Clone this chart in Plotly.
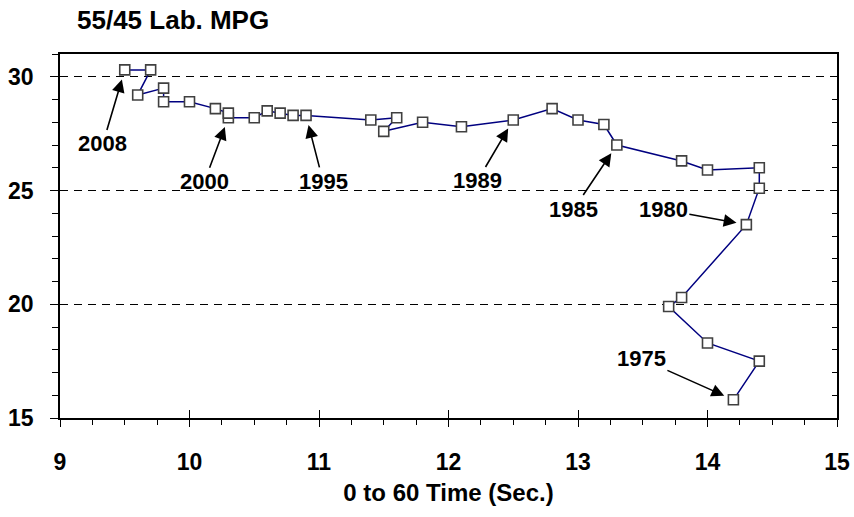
import plotly.graph_objects as go

# ---- data ----
years = list(range(1975, 2009))
accel_time = [14.2, 14.4, 14.0, 13.7, 13.8, 14.3, 14.4, 14.4, 14.0, 13.8,
              13.3, 13.2, 13.0, 12.8, 12.5, 12.1, 11.8, 11.5, 11.6, 11.4,
              10.9, 10.8, 10.7, 10.6, 10.5, 10.3, 10.3, 10.2, 10.0, 9.8,
              9.8, 9.6, 9.7, 9.5]
mpg = [15.8, 17.5, 18.3, 19.9, 20.3, 23.5, 25.1, 26.0, 25.9, 26.3,
       27.0, 27.9, 28.1, 28.6, 28.1, 27.8, 28.0, 27.6, 28.2, 28.1,
       28.3, 28.3, 28.4, 28.5, 28.2, 28.2, 28.4, 28.6, 28.9, 28.9,
       29.5, 29.2, 30.3, 30.3]
labelled_years = [2008, 2000, 1995, 1989, 1985, 1980, 1975]

x_ticks = [9, 10, 11, 12, 13, 14, 15]
y_ticks = [15, 20, 25, 30]

# label offsets (pixels from the point to the label text)
label_offsets = {2008: (-22, 74), 2000: (-24, 64), 1995: (17, 66),
                 1989: (-36, 61), 1985: (-43, 64), 1980: (-83, -15),
                 1975: (-92, -41)}

FONT = "Arial, Liberation Sans, sans-serif"
BOLD = dict(family=FONT, color="black", weight="bold")

fig = go.Figure()

fig.add_trace(go.Scatter(
    x=accel_time, y=mpg, mode="lines+markers",
    line=dict(color="#000080", width=1.5),
    marker=dict(symbol="square", size=10, color="white",
                line=dict(color="#404040", width=1.6)),
    text=[str(y) for y in years], hoverinfo="text+x+y",
    showlegend=False))

# invisible trace to carry the extra tick axes (inside ticks)
fig.add_trace(go.Scatter(x=[9, 15], y=[15, 31], xaxis="x2", yaxis="y2",
                         mode="markers", marker=dict(opacity=0),
                         hoverinfo="skip", showlegend=False))

for yr in labelled_years:
    i = years.index(yr)
    ax, ay = label_offsets[yr]
    fig.add_annotation(
        x=accel_time[i], y=mpg[i], text=str(yr),
        ax=ax, ay=ay, showarrow=True, arrowhead=2, arrowsize=1.6,
        arrowwidth=1.6, arrowcolor="black", standoff=10,
        font=dict(BOLD, size=22))

fig.update_layout(
    width=854, height=517,
    margin=dict(l=60, r=17, t=54, b=99),
    paper_bgcolor="white", plot_bgcolor="white",
    font=dict(family=FONT, color="black"),
    title=dict(text="55/45 Lab. MPG", x=77 / 854, xanchor="left",
               xref="container", y=1 - 20 / 517, yanchor="middle",
               font=dict(BOLD, size=26)),
    xaxis=dict(range=[9, 15], tickvals=x_ticks, ticks="outside", ticklen=7,
               tickwidth=1.2, tickcolor="black", automargin=False,
               minor=dict(dtick=0.25, ticks="outside", ticklen=5,
                          tickcolor="black", tickwidth=1),
               showline=True, linecolor="black", linewidth=1.5, mirror=True,
               showgrid=False, zeroline=False,
               tickfont=dict(BOLD, size=23),
               ticklabelstandoff=16,
               title=dict(text="0 to 60 Time (Sec.)",
                          font=dict(BOLD, size=24), standoff=10)),
    xaxis2=dict(range=[9, 15], overlaying="x", side="bottom", anchor="y",
                tickvals=x_ticks, ticks="inside", ticklen=8, tickwidth=1.2,
                tickcolor="black", showticklabels=False, showgrid=False,
                zeroline=False, showline=False, automargin=False),
    yaxis=dict(range=[15, 31], tickvals=y_ticks, ticks="outside", ticklen=8,
               tickwidth=1.2, tickcolor="black", automargin=False,
               minor=dict(dtick=1, ticks="outside", ticklen=6,
                          tickcolor="black", tickwidth=1),
               showline=True, linecolor="black", linewidth=1.5, mirror=True,
               showgrid=True, gridcolor="black", gridwidth=1,
               griddash="8px,6px", zeroline=False,
               tickfont=dict(BOLD, size=23), ticklabelstandoff=12),
    yaxis2=dict(range=[15, 31], overlaying="y", side="right", anchor="x",
                dtick=1, tick0=15, ticks="inside", ticklen=5, tickwidth=1,
                tickcolor="black", showticklabels=False, showgrid=False,
                zeroline=False, showline=False, automargin=False),
)

# drop the browser's default page margin so the figure sits at (0, 0)
fig.write_html("out.html", config={"displayModeBar": False},
               post_script="document.body.style.margin='0';")
